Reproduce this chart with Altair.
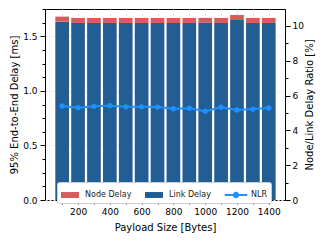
import altair as alt
import pandas as pd

# ---- data ----
payload = [100, 200, 300, 400, 500, 600, 700, 800, 900, 1000, 1100, 1200, 1300, 1400]
link_delay = [1.636, 1.624, 1.624, 1.624, 1.624, 1.624, 1.624, 1.624, 1.624, 1.628, 1.624, 1.651, 1.624, 1.624]
node_delay = [0.046, 0.046, 0.046, 0.046, 0.046, 0.046, 0.046, 0.046, 0.046, 0.042, 0.046, 0.046, 0.046, 0.046]
nlr = [5.40, 5.30, 5.38, 5.42, 5.35, 5.35, 5.34, 5.24, 5.27, 5.10, 5.33, 5.17, 5.22, 5.29]

series_order = ["Node Delay", "Link Delay", "NLR"]
series_colors = ["#d65c5c", "#225d94", "#1e90ff"]

rows = []
for p, l, n in zip(payload, link_delay, node_delay):
    rows.append({"payload": p, "series": "Link Delay", "lo": 0.0, "hi": l})
    rows.append({"payload": p, "series": "Node Delay", "lo": l, "hi": l + n})
bar_df = pd.DataFrame(rows)
nlr_df = pd.DataFrame({"payload": payload, "nlr": nlr, "series": ["NLR"] * len(payload)})
legend_df = pd.DataFrame({"series": series_order})

FONT = "DejaVu Sans"
color_scale = alt.Scale(domain=series_order, range=series_colors)

rect_path = "M-1,-0.33H1V0.33H-1Z"
nlr_path = ("M-1.25,-0.11H1.25V0.11H-1.25Z"
            "M-0.35,0A0.35,0.35,0,1,1,0.35,0A0.35,0.35,0,1,1,-0.35,0Z")
shape_scale = alt.Scale(domain=series_order, range=[rect_path, rect_path, nlr_path])

legend = alt.Legend(
    orient="none", legendX=12, legendY=173, direction="horizontal", title=None,
    labelFontSize=8, labelFont=FONT, labelColor="#222222", symbolSize=324,
    labelOffset=6, columnPadding=13, padding=4, fillColor="white",
    strokeColor="#cccccc", cornerRadius=2, symbolOpacity=1, symbolStrokeWidth=0,
)

x_scale = alt.Scale(domain=[-8, 1502], nice=False, zero=False)
x_axis = alt.Axis(
    values=payload, format="d", labelFlush=False,
    labelExpr="datum.value % 200 === 0 ? datum.label : ''",
    title="Payload Size [Bytes]", tickSize=4, labelPadding=3, titlePadding=6,
    grid=True, gridColor="#e4e4e4", gridDash=[2, 2],
)

y_left_axis = alt.Axis(
    values=[i * 0.125 for i in range(15)], labelFlush=False,
    labelExpr="datum.value % 0.5 === 0 ? format(datum.value, '.1f') : ''",
    tickSize={"condition": {"test": "datum.value % 0.5 === 0", "value": 5}, "value": 3},
    title="95% End-to-End Delay [ms]", labelPadding=3, titlePadding=3,
    grid=True, gridColor="#e4e4e4", gridDash=[2, 2],
    gridOpacity={"condition": {"test": "datum.value % 0.5 === 0", "value": 1}, "value": 0},
)

y_right_axis = alt.Axis(
    orient="right", values=list(range(0, 11)), labelFlush=False,
    labelExpr="datum.value % 2 === 0 ? datum.label : ''",
    tickSize={"condition": {"test": "datum.value % 2 === 0", "value": 5}, "value": 3},
    title="Node/Link Delay Ratio [%]", titleAngle=270, titleBaseline="top",
    labelPadding=2, titlePadding=1, grid=False,
)

bars = alt.Chart(bar_df).transform_calculate(
    x0="datum.payload - 43", x1="datum.payload + 43"
).mark_bar(opacity=1).encode(
    x=alt.X("x0:Q", scale=x_scale, axis=x_axis),
    x2="x1:Q",
    y=alt.Y("lo:Q", scale=alt.Scale(domain=[0, 1.752], nice=False, zero=True), axis=y_left_axis),
    y2="hi:Q",
    fill=alt.Fill("series:N", scale=alt.Scale(domain=series_order[:2], range=series_colors[:2]), legend=None),
)

y_right = alt.Y("nlr:Q", scale=alt.Scale(domain=[0, 10.97], nice=False, zero=True), axis=y_right_axis)
x_line = alt.X("payload:Q", scale=x_scale, axis=x_axis)

line = alt.Chart(nlr_df).mark_line(strokeWidth=2, color=series_colors[2]).encode(x=x_line, y=y_right)
points = alt.Chart(nlr_df).mark_circle(size=28, opacity=1, color=series_colors[2]).encode(x=x_line, y=y_right)

legend_layer = alt.Chart(legend_df).mark_point(filled=True, opacity=0, size=324).encode(
    color=alt.Color("series:N", scale=color_scale, legend=legend),
    shape=alt.Shape("series:N", scale=shape_scale, legend=legend),
)

chart = alt.layer(bars, alt.layer(line, points, legend_layer)).resolve_scale(y="independent").properties(
    width=240, height=191,
    autosize=alt.AutoSizeParams(type="none"),
    padding={"left": 37, "top": 1, "right": 34, "bottom": 35},
).configure_view(
    stroke="black", strokeWidth=1
).configure_axis(
    labelFont=FONT, titleFont=FONT, labelColor="black", titleColor="black",
    tickColor="black", domain=False, labelFontSize=9, titleFontSize=10,
    titleFontWeight="normal",
)

chart.save("out.html", embed_options={"renderer": "svg", "actions": False})
